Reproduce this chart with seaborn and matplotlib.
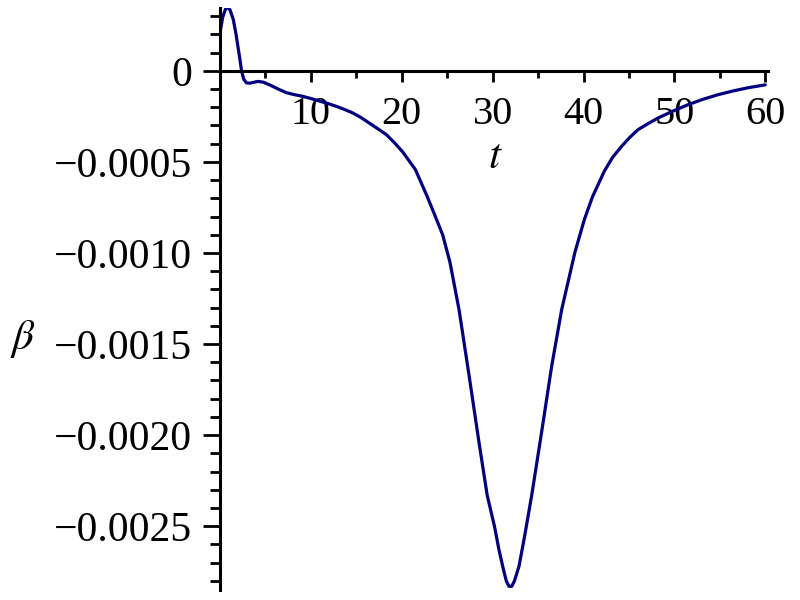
import matplotlib
matplotlib.use("Agg")
import matplotlib.pyplot as plt
import seaborn as sns
import pandas as pd
from matplotlib.ticker import FixedLocator, MultipleLocator

sns.set_theme(style="white")
plt.rcParams['font.family'] = ['Liberation Serif', 'DejaVu Serif']
plt.rcParams['mathtext.fontset'] = 'stix'
plt.rcParams['text.color'] = 'black'
plt.rcParams['xtick.color'] = 'black'
plt.rcParams['ytick.color'] = 'black'
plt.rcParams['axes.labelcolor'] = 'black'

t_vals = [0.0, 0.3, 0.6, 0.84, 1.1, 1.46, 1.75, 2.0, 2.2, 2.37, 2.6, 2.9, 3.3, 3.8,
          4.2, 4.8, 5.5, 6.4, 7.3, 8.2, 9.1, 10.0, 10.95, 11.9, 12.8, 13.7, 14.6,
          15.5, 16.4, 17.3, 18.3, 19.2, 20.1, 21.5, 22.8, 23.7, 24.5, 25.3, 26.3,
          27.4, 28.5, 29.4, 30.2, 30.7, 31.2, 31.5, 31.8, 32.1, 32.4, 32.9, 33.5,
          34.3, 35.4, 36.5, 37.6, 39.05, 40.1, 41.0, 42.3, 43.2, 44.2, 45.1, 46.0,
          47.1, 48.2, 49.8, 51.5, 53.1, 54.8, 56.5, 58.2, 60.0]
beta_vals = [0.000208, 0.000295, 0.000338, 0.000348, 0.000335, 0.000282, 0.000205,
             0.000125, 0.000060, 0.0, -0.000045, -0.000066, -0.000068, -0.000062,
             -0.000058, -0.000063, -0.000078, -0.000100, -0.000120, -0.000131,
             -0.000140, -0.000152, -0.000166, -0.000180, -0.000195, -0.000212,
             -0.000231, -0.000256, -0.000286, -0.000316, -0.000350, -0.000395,
             -0.000445, -0.000542, -0.000690, -0.000800, -0.000900, -0.00105,
             -0.00131, -0.00167, -0.00204, -0.00233, -0.00250, -0.00263, -0.00274,
             -0.00280, -0.00283, -0.00283, -0.00280, -0.00272, -0.00256, -0.00233,
             -0.00198, -0.00162, -0.00131, -0.000997, -0.000815, -0.000690,
             -0.000550, -0.000475, -0.000414, -0.000365, -0.000323, -0.000290,
             -0.000259, -0.000222, -0.000186, -0.000157, -0.000131, -0.000110,
             -0.000092, -0.000077]

y_ticks = [0, -0.0005, -0.0010, -0.0015, -0.0020, -0.0025]
y_tick_labels = ["0", "\u22120.0005", "\u22120.0010", "\u22120.0015", "\u22120.0020", "\u22120.0025"]
x_ticks = [10, 20, 30, 40, 50, 60]
x_tick_labels = ["10", "20", "30", "40", "50", "60"]

df = pd.DataFrame({"t": t_vals, "beta": beta_vals})

fig = plt.figure(figsize=(8, 6), dpi=100)
ax = fig.add_axes([0.275, 0.0167, 0.685, 0.97])
sns.lineplot(data=df, x="t", y="beta", ax=ax, color="#000080", linewidth=2.3, sort=False)

ax.set_xlim(0, 60.3)
ax.set_ylim(-0.00285, 0.000345)

for s in ["top", "right"]:
    ax.spines[s].set_visible(False)
ax.spines["left"].set_position(("data", 0))
ax.spines["bottom"].set_position(("data", 0))
for s in ["left", "bottom"]:
    ax.spines[s].set_linewidth(2.2)
    ax.spines[s].set_color("black")

ax.xaxis.set_major_locator(FixedLocator(x_ticks))
ax.set_xticklabels(x_tick_labels)
ax.xaxis.set_minor_locator(MultipleLocator(5))
ax.yaxis.set_major_locator(FixedLocator(y_ticks))
ax.set_yticklabels(y_tick_labels)
ax.yaxis.set_minor_locator(MultipleLocator(0.0001))

ax.tick_params(axis="x", which="major", direction="out", length=8, width=2, pad=10,
               labelsize=29, bottom=True)
ax.tick_params(axis="x", which="minor", direction="out", length=5, width=2, bottom=True)
ax.tick_params(axis="y", which="major", direction="out", length=12, width=2, pad=8,
               labelsize=30, left=True)
ax.tick_params(axis="y", which="minor", direction="out", length=7, width=2, left=True)

ax.set_xlabel("$t$", fontsize=31)
ax.xaxis.set_label_coords(0.502, 0.775)
ax.set_ylabel(r"$\beta$", fontsize=31, rotation=0)
ax.yaxis.set_label_coords(-0.36, 0.395)
ax.grid(False)

fig.savefig("out.png", dpi=100)
